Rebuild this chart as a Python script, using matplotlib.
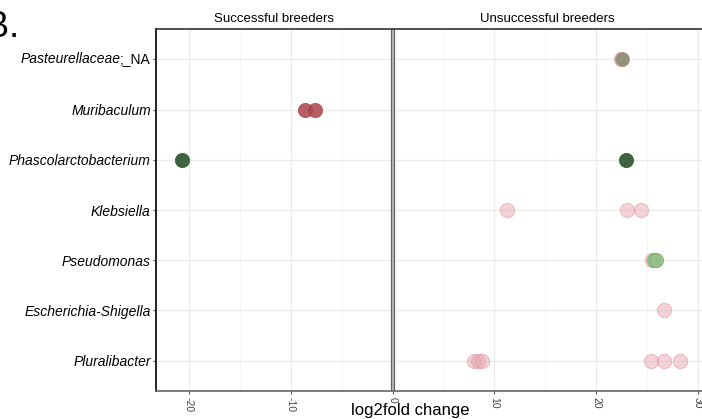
import matplotlib
matplotlib.use('Agg')
import matplotlib.pyplot as plt

plt.rcParams['font.family'] = ['Liberation Sans', 'DejaVu Sans']

taxa = ['Pasteurellaceae;_NA', 'Muribaculum', 'Phascolarctobacterium', 'Klebsiella',
        'Pseudomonas', 'Escherichia-Shigella', 'Pluralibacter']

# (taxon, log2fold change) for each group of points
pink_taxa = ['Pasteurellaceae;_NA', 'Klebsiella', 'Klebsiella', 'Klebsiella',
             'Pseudomonas', 'Escherichia-Shigella',
             'Pluralibacter', 'Pluralibacter', 'Pluralibacter',
             'Pluralibacter', 'Pluralibacter', 'Pluralibacter']
pink_lfc = [22.4, 11.2, 23.0, 24.4, 25.5, 26.7, 8.0, 8.4, 8.8, 25.4, 26.7, 28.2]

red_taxa = ['Muribaculum', 'Muribaculum']
red_lfc = [-8.6, -7.6]

dkgreen_taxa = ['Phascolarctobacterium', 'Phascolarctobacterium']
dkgreen_lfc = [-20.7, 22.9]

green_taxa = ['Pseudomonas', 'Pseudomonas']
green_lfc = [25.7, 25.9]

olive_taxa = ['Pasteurellaceae;_NA']
olive_lfc = [22.5]

ypos = {t: i + 1 for i, t in enumerate(taxa)}

fig = plt.figure(figsize=(7.02, 4.19), dpi=100)
ax = fig.add_axes([0.2227, 0.0675, 0.7773, 0.8625])

ax.set_xlim(-23.2, 30.4)
ax.set_ylim(7.6, 0.4)

for x in [-20, -10, 0, 10, 20, 30]:
    ax.axvline(x, color='#ebebeb', lw=0.9, zorder=0)
for x in [-15, -5, 5, 15, 25]:
    ax.axvline(x, color='#f4f4f4', lw=0.6, zorder=0)
for y in range(1, 8):
    ax.axhline(y, color='#ebebeb', lw=0.9, zorder=0)

# zero line
ax.axvline(0, color='#b0b0b0', lw=3.2, zorder=1)
ax.axvline(-0.16, color='#555555', lw=0.6, zorder=1)
ax.axvline(0.16, color='#555555', lw=0.6, zorder=1)

s = 105
ax.scatter(pink_lfc, [ypos[t] for t in pink_taxa], s=s, color='#e8a9b1', alpha=0.5,
           edgecolors='#df8f9a', linewidths=0.8, zorder=3)
ax.scatter(red_lfc, [ypos[t] for t in red_taxa], s=s, color='#a94349', alpha=0.85,
           edgecolors='#a94349', linewidths=0.6, zorder=4)
ax.scatter(dkgreen_lfc, [ypos[t] for t in dkgreen_taxa], s=s, color='#365a36',
           alpha=0.95, edgecolors='#2e6a35', linewidths=0.6, zorder=4)
ax.scatter(green_lfc, [ypos[t] for t in green_taxa], s=s, color='#95c087', alpha=0.85,
           edgecolors='#72ab68', linewidths=0.6, zorder=4)
ax.scatter(olive_lfc, [ypos[t] for t in olive_taxa], s=s, color='#8d8f76', alpha=0.95,
           edgecolors='#c79a8f', linewidths=0.6, zorder=4)

ax.set_yticks(range(1, 8))
ax.set_yticklabels([''] + taxa[1:], fontsize=10, fontstyle='italic')
ax.tick_params(axis='y', length=2.5, width=0.6, color='#333333', pad=1.5)

# first label: italic family name, upright suffix
suffix = ax.annotate(';_NA', xy=(0, 1), xycoords=('axes fraction', 'data'),
                     xytext=(-4.2, 0), textcoords='offset points',
                     ha='right', va='center', fontsize=10)
ax.annotate('Pasteurellaceae', xy=(0, 0.5), xycoords=suffix,
            xytext=(0.6, 0), textcoords='offset points', ha='right',
            va='center', fontsize=10, fontstyle='italic')

ax.set_xticks([-20, -10, 0, 10, 20, 30])
ax.set_xticklabels(['-20', '-10', '0', '10', '20', '30'], rotation=-90, fontsize=7.5,
                   color='#444444')
ax.tick_params(axis='x', length=2.5, width=0.6, color='#333333', pad=2)

ax.spines['right'].set_visible(False)
ax.spines['left'].set_color('black')
ax.spines['left'].set_linewidth(1.2)
ax.spines['top'].set_color('#333333')
ax.spines['top'].set_linewidth(1.2)
ax.spines['bottom'].set_color('#666666')
ax.spines['bottom'].set_linewidth(1.2)

ax.text(-11.6, 0.2, 'Successful breeders', ha='center', va='center', fontsize=9.5)
ax.text(15.2, 0.2, 'Unsuccessful breeders', ha='center', va='center', fontsize=9.5)

fig.text(0.585, 0.003, 'log2fold change', ha='center', va='bottom', fontsize=12)
fig.text(-0.022, 0.975, 'B.', ha='left', va='top', fontsize=26,
         family=['Liberation Sans', 'DejaVu Sans'], fontstyle='normal')

fig.savefig('out.png', dpi=100)
plt.close()
